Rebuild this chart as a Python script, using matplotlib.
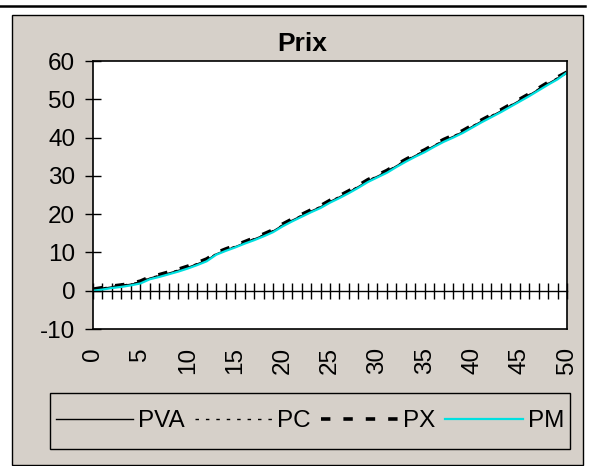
import matplotlib
matplotlib.use("Agg")
import matplotlib.pyplot as plt
from matplotlib.patches import Rectangle
from matplotlib.lines import Line2D

plt.rcParams['font.family'] = ['Liberation Sans', 'DejaVu Sans']
plt.rcParams['axes.unicode_minus'] = False

# données
periodes = list(range(0, 51))
pm = [0.0, 0.3, 0.7, 1.0, 1.4, 1.9, 3.0, 3.6, 4.3, 5.0,
      5.8, 6.7, 7.7, 9.4, 10.4, 11.3, 12.3, 13.2, 14.2, 15.3,
      16.8, 18.1, 19.3, 20.5, 21.6, 23.0, 24.2, 25.5, 26.9, 28.4,
      29.6, 30.8, 32.3, 33.7, 35.0, 36.2, 37.6, 38.9, 40.0, 41.2,
      42.6, 44.0, 45.3, 46.6, 48.0, 49.4, 50.8, 52.3, 53.8, 55.2,
      57.0]
px = [0.4, 0.8, 1.2, 1.5, 1.9, 2.5, 3.6, 4.2, 4.9, 5.6,
      6.4, 7.3, 8.3, 9.9, 10.9, 11.8, 12.8, 13.8, 14.8, 15.9,
      17.4, 18.7, 19.9, 21.1, 22.2, 23.6, 24.8, 26.1, 27.5, 29.0,
      30.2, 31.4, 32.9, 34.3, 35.6, 36.8, 38.2, 39.5, 40.6, 41.8,
      43.2, 44.6, 45.9, 47.2, 48.6, 50.0, 51.4, 52.9, 54.4, 55.8,
      57.1]
pva = [0.2, 0.6, 1.0, 1.3, 1.7, 2.2, 3.3, 3.9, 4.6, 5.3,
       6.1, 7.0, 8.0, 9.6, 10.6, 11.5, 12.5, 13.5, 14.5, 15.6,
       17.1, 18.4, 19.6, 20.8, 21.9, 23.3, 24.5, 25.8, 27.2, 28.7,
       29.9, 31.1, 32.6, 34.0, 35.3, 36.5, 37.9, 39.2, 40.3, 41.5,
       42.9, 44.3, 45.6, 46.9, 48.3, 49.7, 51.1, 52.6, 54.1, 55.5,
       57.0]
pc = [0.3, 0.7, 1.1, 1.4, 1.8, 2.3, 3.4, 4.0, 4.7, 5.4,
      6.2, 7.1, 8.1, 9.7, 10.7, 11.6, 12.6, 13.6, 14.6, 15.7,
      17.2, 18.5, 19.7, 20.9, 22.0, 23.4, 24.6, 25.9, 27.3, 28.8,
      30.0, 31.2, 32.7, 34.1, 35.4, 36.6, 38.0, 39.3, 40.4, 41.6,
      43.0, 44.4, 45.7, 47.0, 48.4, 49.8, 51.2, 52.7, 54.2, 55.6,
      57.0]
yticks = [-10, 0, 10, 20, 30, 40, 50, 60]
xlabels = list(range(0, 51, 5))

W, H = 589, 466
fig = plt.figure(figsize=(W / 100, H / 100), dpi=100)
fig.patch.set_facecolor('white')

# cadre gris + trait du haut
fig.add_artist(Line2D([0, 585 / W], [1 - 5.5 / H, 1 - 5.5 / H], color='black', lw=1.8))
fig.add_artist(Rectangle((12 / W, 1 / H), 571 / W, 450 / H, transform=fig.transFigure,
                         facecolor='#d6d0c9', edgecolor='black', lw=1, zorder=-10))

ax = fig.add_axes([93 / W, (H - 329) / H, 474 / W, 268 / H])
ax.set_facecolor('white')

ax.plot(periodes, pva, color='black', lw=1, label='PVA')
ax.plot(periodes, pc, color='black', lw=1, ls=(0, (2.5, 5)), label='PC')
ax.plot(periodes, px, color='black', lw=2.6, ls=(0, (2.6, 3.6)), label='PX')
ax.plot(periodes, pm, color='#00e0e0', lw=1.6, label='PM')

ax.set_xlim(0, 50)
ax.set_ylim(-10, 60)
ax.set_yticks(yticks)
ax.tick_params(axis='y', direction='inout', length=11.5, width=1, labelsize=17.5, pad=7)

# axe des x croisant a 0
ax.spines['bottom'].set_position(('data', 0))
ax.spines['bottom'].set_linewidth(1)
ax.set_xticks(periodes)
ax.tick_params(axis='x', direction='inout', length=11.5, width=1, labelbottom=False)
for k in ['left', 'top', 'right']:
    ax.spines[k].set_linewidth(1.2)

sec = ax.secondary_xaxis('bottom')
sec.spines['bottom'].set_linewidth(1.2)
sec.set_xticks(xlabels)
sec.tick_params(axis='x', length=0, labelsize=17.5, pad=13, labelrotation=90)

fig.text(302 / W, 1 - 44 / H, 'Prix', ha='center', va='center', fontsize=19, fontweight='bold')

# legende
fig.add_artist(Rectangle((50 / W, 1 - 449 / H), 520 / W, 56 / H, transform=fig.transFigure,
                         facecolor='none', edgecolor='black', lw=1))
h, l = ax.get_legend_handles_labels()
fig.legend(h, l, loc='center', bbox_to_anchor=(310 / W, 1 - 421 / H), ncol=4,
           frameon=False, fontsize=17.5, handlelength=3.2, handletextpad=0.2,
           columnspacing=0.4)

fig.savefig('out.png', dpi=100)
